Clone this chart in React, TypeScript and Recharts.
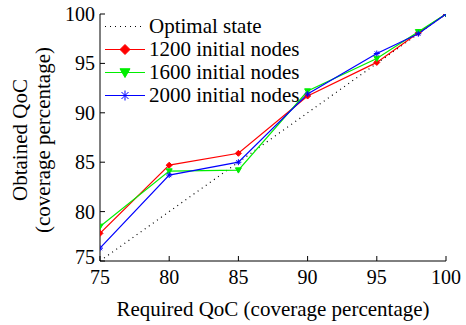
import { LineChart, Line, XAxis, YAxis, Legend, Label } from 'recharts';

const requiredQoc = [75, 80, 85, 90, 95, 98, 100];
const optimalState = [75, 80, 85, 90, 95, 98, 100];
const nodes1200 = [77.8, 84.7, 85.9, 91.7, 95.1, 98.1, 100];
const nodes1600 = [78.5, 84.1, 84.2, 92.2, 95.5, 98.2, 100];
const nodes2000 = [76.3, 83.7, 85.0, 91.9, 96.0, 98.0, 100];
const axisTicks = [75, 80, 85, 90, 95, 100];

const seriesNames = ['Optimal state', '1200 initial nodes', '1600 initial nodes', '2000 initial nodes'];

const data = requiredQoc.map((x, i) => ({
  x,
  optimal: optimalState[i],
  n1200: nodes1200[i],
  n1600: nodes1600[i],
  n2000: nodes2000[i],
}));

const FONT = '"Liberation Serif", "Times New Roman", serif';
const FS = 21;
const TICK_FS = 20;

function Diamond({ cx, cy, r = 4 }: any) {
  if (cx == null || cy == null) return null;
  return <polygon points={`${cx},${cy - r} ${cx + r},${cy} ${cx},${cy + r} ${cx - r},${cy}`} fill="#ff0000" stroke="#ff0000" />;
}

function TriDown({ cx, cy, r = 4.5 }: any) {
  if (cx == null || cy == null) return null;
  return <polygon points={`${cx - r},${cy - r * 0.75} ${cx + r},${cy - r * 0.75} ${cx},${cy + r}`} fill="#00ee00" stroke="#00ee00" />;
}

function Star({ cx, cy, r = 4 }: any) {
  if (cx == null || cy == null) return null;
  const d = r * 0.7;
  return (
    <g stroke="#0000ff" strokeWidth={1}>
      <line x1={cx - r} y1={cy} x2={cx + r} y2={cy} />
      <line x1={cx} y1={cy - r} x2={cx} y2={cy + r} />
      <line x1={cx - d} y1={cy - d} x2={cx + d} y2={cy + d} />
      <line x1={cx - d} y1={cy + d} x2={cx + d} y2={cy - d} />
    </g>
  );
}

function renderLegend() {
  const rows = [
    { color: '#000000', dash: '1 4', marker: null },
    { color: '#ff0000', dash: undefined, marker: Diamond },
    { color: '#00ee00', dash: undefined, marker: TriDown },
    { color: '#0000ff', dash: undefined, marker: Star },
  ];
  return (
    <div style={{ fontFamily: FONT, fontSize: FS, lineHeight: '23px', color: '#000' }}>
      {rows.map((r, i) => {
        const M = r.marker;
        return (
          <div key={i} style={{ display: 'flex', alignItems: 'center', height: 23 }}>
            <svg width={49} height={23} style={{ display: 'block' }}>
              <line x1={5} y1={11.5} x2={45} y2={11.5} stroke={r.color} strokeWidth={1.2} strokeDasharray={r.dash} />
              {M ? <M cx={25} cy={11.5} r={5} /> : null}
            </svg>
            <span style={{ whiteSpace: 'nowrap' }}>{seriesNames[i]}</span>
          </div>
        );
      })}
    </div>
  );
}

function YTitle() {
  return (
    <g fontFamily={FONT} fontSize={FS} fill="#000">
      <text x={20} y={140} transform="rotate(-90 20 140)" textAnchor="middle" dominantBaseline="central">
        Obtained QoC
      </text>
      <text x={43} y={140} transform="rotate(-90 43 140)" textAnchor="middle" dominantBaseline="central">
        (coverage percentage)
      </text>
    </g>
  );
}

function XTick({ x, y, payload }: any) {
  return (
    <text x={x} y={y} dy="0.71em" textAnchor="middle" fontFamily={FONT} fontSize={TICK_FS} fill="#000">
      {payload.value}
    </text>
  );
}

function YTick({ x, y, payload }: any) {
  const lift = payload.value === 75 ? -4 : 0;
  return (
    <text x={x} y={y + lift} dy="0.35em" textAnchor="end" fontFamily={FONT} fontSize={TICK_FS} fill="#000">
      {payload.value}
    </text>
  );
}

export default function App() {
  return (
    <div style={{ position: 'absolute', left: 0, top: 0, width: 466, height: 325, background: '#fff' }}>
      <LineChart width={466} height={325} data={data} margin={{ top: 14, right: 20, left: 0, bottom: 0 }}>
        <XAxis
          xAxisId="b"
          dataKey="x"
          type="number"
          domain={[75, 100]}
          ticks={axisTicks}
          allowDataOverflow
          height={64}
          tickSize={-5}
          tickMargin={14}
          stroke="#000"
          tick={<XTick />}
        >
          <Label value="Required QoC (coverage percentage)" position="insideBottom" offset={9} style={{ fontFamily: FONT, fontSize: FS, fill: '#000' }} />
        </XAxis>
        <XAxis
          xAxisId="t"
          orientation="top"
          dataKey="x"
          type="number"
          domain={[75, 100]}
          ticks={axisTicks}
          height={0}
          tickSize={-5}
          tickFormatter={() => ''}
          stroke="#000"
        />
        <YAxis
          yAxisId="l"
          type="number"
          domain={[75, 100]}
          ticks={axisTicks}
          allowDataOverflow
          width={100}
          tickSize={-5}
          tickMargin={10}
          stroke="#000"
          tick={<YTick />}
        >
          <Label content={<YTitle />} />
        </YAxis>
        <YAxis
          yAxisId="r"
          orientation="right"
          type="number"
          domain={[75, 100]}
          ticks={axisTicks}
          width={0}
          tickSize={-5}
          tickFormatter={() => ''}
          stroke="#000"
        />
        <Legend
          layout="vertical"
          align="center"
          verticalAlign="middle"
          content={renderLegend}
          wrapperStyle={{ left: 100, top: 15, width: 'auto' }}
        />
        <Line xAxisId="b" yAxisId="l" dataKey="optimal" stroke="#000" strokeWidth={1.2} strokeDasharray="1 4" dot={false} isAnimationActive={false} />
        <Line xAxisId="b" yAxisId="l" dataKey="n1200" stroke="#ff0000" strokeWidth={1.2} dot={<Diamond />} isAnimationActive={false} />
        <Line xAxisId="b" yAxisId="l" dataKey="n1600" stroke="#00ee00" strokeWidth={1.2} dot={<TriDown />} isAnimationActive={false} />
        <Line xAxisId="b" yAxisId="l" dataKey="n2000" stroke="#0000ff" strokeWidth={1.2} dot={<Star />} isAnimationActive={false} />
      </LineChart>
    </div>
  );
}
